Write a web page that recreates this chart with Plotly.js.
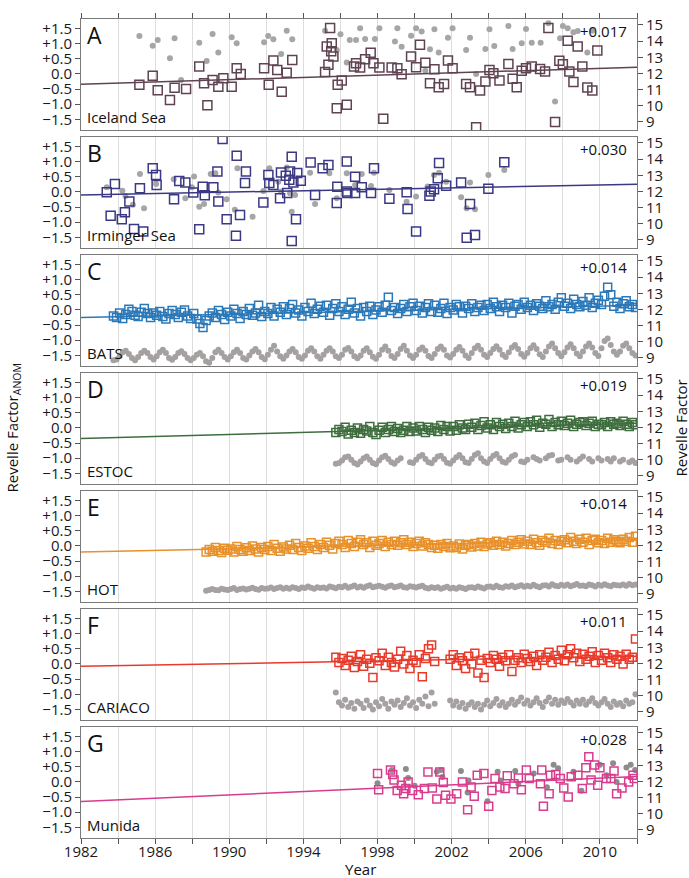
<!DOCTYPE html>
<html>
<head>
<meta charset="utf-8">
<script src="https://cdn.plot.ly/plotly-3.0.1.min.js"></script>
<style>html,body{margin:0;padding:0;background:#fff;}#chart{width:689px;height:878px;}</style>
</head>
<body>
<div id="chart"></div>
<script>
// ---------- axis ticks ----------
const yearTicks = [1982,1984,1986,1988,1990,1992,1994,1996,1998,2000,2002,2004,2006,2008,2010,2012];
const yearLabels = ['1982',' ','1986',' ','1990',' ','1994',' ','1998',' ','2002',' ','2006',' ','2010',' '];
const anomTicks = [-1.5,-1.0,-0.5,0,0.5,1.0,1.5];
const anomLabels = ['\u22121.5','\u22121.0','\u22120.5','0.0','+0.5','+1.0','+1.5'];
const revTicks = [9,10,11,12,13,14,15];
const trendYears = [1982, 2012];

// ---------- A: Iceland Sea ----------
const icelandYears = [1985.15,1985.87,1986.14,1986.80,1987.05,1987.67,1988.38,1988.64,1988.82,1989.10,1989.41,1989.68,1990.13,1990.40,1990.62,1991.88,1992.13,1992.38,1992.59,1992.83,1993.10,1993.40,1995.17,1995.26,1995.35,1995.44,1995.53,1995.62,1995.50,1995.80,1995.85,1996.07,1996.34,1996.73,1996.84,1997.06,1997.33,1997.63,1997.78,1998.10,1998.31,1998.76,1999.07,1999.30,1999.81,2000.08,2000.29,2000.58,2000.83,2001.07,2001.30,2001.59,2001.80,2002.05,2002.78,2002.99,2003.32,2003.53,2003.82,2004.04,2004.25,2004.58,2005.06,2005.29,2005.51,2005.78,2006.01,2006.32,2006.77,2007.04,2007.22,2007.58,2007.81,2008.00,2008.26,2008.35,2008.57,2008.80,2009.05,2009.32,2009.59,2009.86];
const icelandAnom = [-0.36,-0.06,-0.54,-0.86,-0.46,-0.50,0.24,-0.31,-1.03,-0.20,-0.42,-0.14,-0.42,0.19,0.00,0.19,-0.36,0.44,0.13,-0.59,0.04,0.46,0.06,0.90,0.30,1.51,1.01,0.57,0.75,-1.13,-0.36,-0.22,-1.02,0.24,0.35,0.21,0.48,0.70,0.35,0.21,-1.48,0.21,0.19,-0.01,0.57,0.22,0.96,0.37,-0.31,0.15,-0.44,-0.33,0.44,0.19,-0.33,-0.44,-1.76,-0.55,-0.25,0.13,0.02,-0.22,0.33,-0.16,-0.44,0.10,0.19,0.24,0.16,0.08,1.51,-1.59,0.43,0.32,1.09,0.08,-0.27,0.90,0.24,-0.45,-0.55,0.77];
const icelandRevYears = [1985.15,1985.87,1986.14,1986.80,1987.05,1987.40,1988.38,1988.78,1989.10,1989.41,1990.13,1990.40,1991.88,1992.10,1992.38,1992.80,1993.10,1993.40,1995.17,1995.80,1996.00,1996.34,1996.50,1996.84,1997.06,1997.33,1997.86,1998.10,1998.94,1999.07,1999.30,1999.81,2000.08,2000.38,2000.58,2000.83,2001.07,2001.30,2001.80,2002.05,2002.78,2002.99,2003.32,2003.82,2004.04,2004.30,2005.06,2005.29,2005.78,2006.01,2006.32,2006.80,2007.22,2007.58,2007.85,2008.00,2008.26,2008.57,2008.80,2009.32,2009.59];
const icelandRev = [14.32,13.72,14.07,12.94,14.18,11.60,13.90,12.77,14.44,13.29,14.24,13.87,13.93,14.32,14.11,13.20,14.65,14.11,14.65,13.45,14.42,12.67,14.07,14.07,14.80,14.13,14.13,14.80,13.97,14.80,13.66,14.34,14.80,14.59,12.17,13.50,14.73,13.29,14.21,14.80,13.45,14.21,11.97,13.52,14.73,13.70,14.94,13.52,13.87,14.75,13.90,13.90,15.10,10.26,14.18,14.94,14.80,14.55,14.63,13.29,14.65];
const icelandTrend = [-0.34, 0.22];

// ---------- B: Irminger Sea ----------
const irmingerYears = [1983.39,1983.83,1983.60,1984.20,1984.37,1984.61,1984.86,1985.36,1985.18,1985.87,1986.05,1986.08,1987.02,1987.30,1987.63,1988.06,1988.38,1988.57,1988.68,1989.14,1989.36,1989.41,1989.64,1989.86,1990.36,1990.40,1990.58,1990.85,1990.90,1991.84,1992.11,1992.16,1992.38,1992.74,1992.79,1993.05,1993.13,1993.24,1993.28,1993.37,1993.37,1993.46,1993.60,1993.67,1993.86,1994.39,1994.63,1995.04,1995.35,1995.80,1995.83,1996.34,1996.34,1996.37,1996.79,1996.79,1997.15,1997.65,1997.81,1998.64,1999.57,1999.62,2000.08,2000.80,2000.87,2001.05,2001.25,2001.32,2001.70,2002.51,2002.81,2002.99,2003.26,2003.98,2004.84];
const irmingerAnom = [-0.01,0.26,-0.79,-0.90,-0.67,-0.32,-1.22,-1.31,0.12,0.78,0.56,0.23,-0.24,0.36,0.31,-0.02,-1.23,0.17,-0.11,0.15,0.67,-0.32,1.74,-0.90,-1.45,1.19,-0.76,0.29,0.67,-0.35,0.56,0.29,0.23,-0.21,0.64,0.53,-0.04,0.40,0.67,1.16,-1.62,0.31,-0.90,0.62,0.37,0.97,-0.10,0.78,0.89,-0.37,0.17,1.00,0.01,-0.04,0.50,-0.04,0.15,-0.04,0.78,-0.23,-0.01,-0.56,-1.31,-0.13,0.01,0.09,0.45,0.95,0.20,0.31,-1.51,-0.40,-1.42,0.10,0.98];
const irmingerRevYears = [1983.39,1984.23,1984.40,1984.80,1985.18,1985.40,1986.05,1987.00,1987.63,1987.98,1988.10,1988.38,1988.64,1989.00,1989.25,1989.41,1989.86,1990.30,1990.44,1991.26,1991.84,1992.16,1992.65,1992.79,1993.10,1993.28,1993.37,1993.55,1994.36,1994.63,1995.40,1995.80,1996.34,1996.79,1997.15,1997.65,1997.81,1998.64,1999.57,2000.08,2000.70,2001.05,2001.32,2001.70,2002.51,2002.81,2002.99,2003.26,2003.98,2004.84];
const irmingerRev = [12.26,12.05,11.72,11.17,13.08,10.96,12.46,12.75,11.58,12.26,12.92,11.06,11.23,13.08,13.12,11.93,11.52,10.86,13.43,10.44,12.03,13.43,12.60,11.99,13.48,11.89,10.75,11.78,13.16,11.23,13.12,11.58,13.12,12.40,13.08,12.34,13.16,12.09,11.37,11.68,12.30,13.02,13.16,12.60,11.64,10.96,12.55,10.90,13.02,13.33];
const irmingerTrend = [-0.10, 0.25];

// ---------- C: BATS (sampled every 2 months from 1983.75) ----------
const batsStart = 1983.75, batsStep = 1/6;
const batsAnom = [-0.20,-0.25,
-0.10,-0.28,-0.15,0.02,-0.05,-0.18,
-0.22,-0.08,0.05,-0.12,-0.25,-0.10,
-0.18,-0.05,-0.22,-0.30,-0.12,-0.02,
-0.15,-0.25,-0.08,0.00,-0.20,-0.28,
-0.12,-0.30,-0.45,-0.58,-0.35,-0.20,
-0.10,-0.25,-0.02,-0.15,-0.32,-0.08,
-0.20,0.02,-0.12,-0.28,-0.05,-0.15,
0.05,-0.18,-0.10,0.15,-0.22,-0.05,
-0.12,0.08,-0.20,0.02,-0.08,0.10,
-0.15,0.05,0.18,-0.10,0.00,-0.20,
0.08,-0.05,0.22,-0.12,0.02,0.12,
-0.08,0.15,-0.18,0.05,0.20,-0.05,
0.10,-0.15,0.02,0.25,-0.10,0.05,
-0.20,0.08,-0.05,0.12,-0.15,0.00,
0.10,-0.08,0.15,0.42,-0.02,0.08,
-0.12,0.05,0.18,-0.05,0.10,0.22,
-0.02,0.12,-0.10,0.08,0.20,-0.05,
0.15,-0.08,0.05,0.22,-0.12,0.08,
0.00,0.18,0.10,-0.10,0.12,0.05,
0.20,-0.05,0.08,0.15,-0.02,0.18,
0.05,0.25,0.10,-0.05,0.15,0.08,
0.22,-0.10,0.12,0.18,0.02,0.25,
0.08,0.15,-0.02,0.20,0.12,0.05,
0.30,0.10,0.18,0.02,0.25,0.40,
0.12,0.22,0.05,0.35,0.18,0.10,
0.28,0.15,0.40,0.08,0.22,0.32,
0.18,0.45,0.75,0.50,0.12,0.25,
0.05,0.20,0.30,0.10,0.18,0.08];
const batsRev = [8.85,8.90,
9.10,9.35,9.45,9.25,9.00,8.85,
9.05,9.30,9.45,9.30,9.05,8.90,
9.10,9.35,9.50,9.30,9.00,8.88,
9.05,9.30,9.42,9.25,9.00,8.85,
9.00,9.20,9.30,9.10,8.80,8.70,
9.00,9.35,9.50,9.30,9.05,8.90,
9.10,9.35,9.50,9.30,9.00,8.90,
9.15,9.40,9.55,9.35,9.05,8.92,
9.20,9.50,9.75,9.40,9.10,8.95,
9.15,9.40,9.55,9.35,9.05,8.95,
9.15,9.45,9.60,9.40,9.10,8.95,
9.20,9.45,9.60,9.40,9.10,9.00,
9.20,9.50,9.62,9.40,9.10,8.98,
9.15,9.45,9.60,9.35,9.08,8.95,
9.20,9.50,9.70,9.45,9.12,9.00,
9.25,9.55,9.75,9.45,9.15,9.00,
9.20,9.50,9.65,9.45,9.12,9.00,
9.25,9.55,9.70,9.50,9.15,9.02,
9.25,9.50,9.68,9.45,9.15,9.00,
9.30,9.60,9.75,9.50,9.20,9.05,
9.30,9.55,9.72,9.50,9.20,9.05,
9.35,9.65,9.80,9.55,9.25,9.08,
9.30,9.60,9.78,9.55,9.22,9.05,
9.40,9.70,9.90,9.60,9.30,9.10,
9.35,9.65,9.85,9.60,9.28,9.10,
9.40,9.70,9.90,9.65,9.30,9.12,
9.60,10.05,10.20,9.80,9.40,9.20,
9.40,9.75,9.90,9.60,9.30,9.15];
const batsTrend = [-0.25, 0.15];

// ---------- D: ESTOC (every 2 months from 1995.75) ----------
const estocStart = 1995.75, estocStep = 1/6;
const estocAnom = [-0.15,-0.05,
-0.12,0.02,-0.20,-0.08,-0.15,0.00,
-0.18,-0.05,-0.10,0.05,-0.15,-0.22,
-0.08,0.02,-0.15,-0.05,0.05,-0.12,
-0.02,-0.15,-0.08,0.05,-0.12,0.00,
-0.10,0.05,-0.05,-0.15,0.02,-0.08,
0.00,-0.12,0.08,-0.05,0.05,-0.10,
0.05,-0.08,0.10,0.00,-0.05,0.12,
0.02,0.15,-0.05,0.08,0.20,0.00,
0.10,-0.05,0.18,0.05,0.12,-0.02,
0.15,0.05,0.22,0.00,0.10,0.18,
0.05,0.20,0.10,0.25,0.02,0.15,
0.12,0.28,0.05,0.18,0.10,0.22,
0.08,0.15,0.25,0.05,0.12,0.18,
0.20,0.08,0.15,0.22,0.05,0.12,
0.10,0.18,0.05,0.20,0.12,0.15,
0.08,0.22,0.12,0.05,0.18,0.10];
const estocRev = [9.75,9.80,
9.95,10.15,10.20,10.00,9.80,9.70,
9.90,10.10,10.20,10.00,9.80,9.72,
9.95,10.15,10.25,10.05,9.85,9.75,
9.95,10.10,null,null,9.85,9.80,
10.00,10.20,10.30,10.05,9.85,9.78,
10.00,10.20,10.25,10.05,9.82,9.75,
9.95,10.15,10.30,10.10,9.85,9.80,
10.05,10.30,10.40,10.10,9.90,9.80,
10.05,10.25,10.35,10.10,9.88,9.82,
10.00,10.20,10.30,null,9.90,9.85,
10.00,null,10.15,10.05,9.95,null,
10.10,10.25,10.30,null,9.95,10.00,
null,10.15,10.00,null,9.90,10.05,
10.20,null,10.05,9.90,null,10.10,
9.95,null,10.05,9.90,10.10,null,
9.90,10.00,null,9.85,9.95,9.80];
const estocTrend = [-0.35, 0.15];

// ---------- E: HOT (every 2 months from 1988.75) ----------
const hotStart = 1988.75, hotStep = 1/6;
const hotAnom = [-0.20,-0.12,
-0.18,-0.05,-0.15,-0.22,-0.08,-0.14,
-0.10,-0.20,-0.02,-0.12,-0.18,-0.06,
-0.15,0.00,-0.10,-0.20,-0.05,-0.12,
-0.02,-0.15,0.05,-0.08,-0.18,-0.04,
-0.10,0.02,-0.12,0.08,-0.05,-0.15,
0.00,-0.08,0.10,-0.02,-0.12,0.05,
-0.05,0.12,0.02,-0.10,0.08,0.15,
0.05,-0.05,0.18,0.08,-0.02,0.12,
0.20,0.05,0.10,-0.05,0.15,0.02,
0.08,0.18,-0.02,0.12,0.05,0.15,
0.02,0.10,0.20,0.05,0.12,-0.02,
0.08,0.15,0.00,0.10,0.05,-0.05,
0.02,-0.08,0.05,-0.02,0.08,-0.06,
0.00,-0.05,0.06,-0.10,0.02,0.05,
-0.04,0.08,0.00,0.12,-0.02,0.06,
0.10,0.02,0.15,0.05,0.12,0.00,
0.08,0.18,0.05,0.12,0.20,0.06,
0.15,0.05,0.22,0.10,0.02,0.18,
0.12,0.25,0.08,0.18,0.05,0.15,
0.20,0.10,0.28,0.15,0.08,0.22,
0.12,0.25,0.05,0.18,0.22,0.10,
0.18,0.08,0.25,0.12,0.20,0.15,
0.10,0.22,0.15,0.28,0.12,0.32];
const hotRev = [9.20,9.25,
9.30,9.25,9.22,9.32,9.27,9.25,
9.30,9.36,9.25,9.30,9.34,9.28,
9.32,9.38,9.30,9.26,9.36,9.32,
9.34,9.40,9.30,9.36,9.42,9.32,
9.38,9.32,9.42,9.36,9.30,9.40,
9.36,9.46,9.38,9.32,9.42,9.36,
9.40,9.34,9.46,9.42,9.35,9.44,
9.42,9.50,9.38,9.44,9.52,9.40,
9.46,9.38,9.48,9.54,9.42,9.46,
9.50,9.44,9.38,9.48,9.52,9.42,
9.46,9.52,9.42,9.38,9.48,9.44,
9.40,9.46,9.50,9.38,9.34,9.42,
9.36,9.42,9.32,9.38,9.44,9.34,
9.38,9.32,9.42,9.36,9.30,9.40,
9.42,9.36,9.46,9.40,9.34,9.44,
9.46,9.40,9.50,9.42,9.38,9.48,
9.44,9.52,9.42,9.48,9.54,9.44,
9.50,9.46,9.56,9.48,9.42,9.52,
9.54,9.46,9.60,9.50,9.48,9.56,
9.50,9.58,9.48,9.54,9.62,9.50,
9.52,9.48,9.58,9.54,9.46,9.56,
9.50,9.60,9.52,9.48,9.56,9.54,
9.52,9.58,9.50,9.62,9.54,9.58];
const hotTrend = [-0.20, 0.20];

// ---------- F: CARIACO (every 2 months from 1995.75) ----------
const cariacoStart = 1995.75, cariacoStep = 1/6;
const cariacoAnom = [0.22,0.05,
0.18,-0.05,0.12,0.25,-0.12,0.08,
0.30,-0.08,0.15,0.02,-0.45,0.20,
0.10,0.35,-0.05,0.22,0.05,-0.10,
0.15,0.42,0.00,0.28,-0.15,0.12,
0.05,0.30,-0.42,0.18,0.50,0.62,
0.08,null,null,null,null,0.15,
0.30,-0.05,0.20,0.10,-0.15,0.25,
0.00,0.35,-0.30,0.12,-0.45,0.18,
0.05,0.28,0.15,-0.08,0.22,0.10,
0.30,-0.25,0.12,0.20,0.05,0.32,
0.18,0.08,0.25,-0.05,0.30,0.12,
0.22,0.38,0.05,0.28,0.15,0.45,
0.10,0.30,0.50,0.20,0.35,0.08,
0.32,0.15,0.25,0.40,0.05,0.28,
0.12,0.35,0.20,0.05,0.30,0.15,
0.25,0.00,0.32,0.15,0.22,0.82];
const cariacoRev = [10.20,9.60,
9.40,9.75,9.30,9.55,9.20,9.65,
9.50,9.25,9.70,9.40,9.15,9.60,
9.35,9.80,9.50,9.20,9.65,9.45,
9.70,9.30,9.55,9.85,9.40,9.60,
9.25,9.75,9.50,9.95,9.35,10.20,
9.50,null,null,null,null,9.70,
9.40,9.65,9.30,9.55,9.20,9.45,
9.60,9.30,9.50,9.15,9.45,9.70,
9.35,9.55,9.80,9.40,9.60,9.30,
9.50,9.75,9.45,9.65,9.90,9.50,
9.70,9.40,9.60,9.85,9.55,9.30,
9.65,9.90,9.50,9.75,9.45,9.70,
9.55,9.80,9.60,9.40,9.70,9.50,
9.75,9.45,9.65,9.85,9.55,9.40,
9.60,9.80,9.50,9.30,9.65,9.45,
9.55,9.35,9.70,9.50,9.60,10.10];
const cariacoTrend = [-0.08, 0.25];

// ---------- G: Munida ----------
const munidaYears = [1998.00,1998.06,1998.70,1998.82,1998.89,1999.06,1999.29,1999.41,1999.53,1999.65,1999.89,2000.20,2000.53,2000.72,2000.96,2001.20,2001.36,2001.55,2001.67,2001.96,2002.27,2002.58,2002.86,2003.05,2003.22,2003.38,2003.74,2004.00,2004.17,2004.34,2004.60,2004.88,2005.00,2005.36,2005.60,2005.76,2006.03,2006.19,2006.79,2006.86,2006.95,2007.26,2007.33,2007.62,2007.86,2008.05,2008.29,2008.45,2008.81,2009.05,2009.24,2009.40,2009.52,2009.71,2009.88,2010.00,2010.35,2010.59,2010.76,2010.90,2011.19,2011.55,2011.78,2011.85];
const munidaAnom = [0.28,-0.26,0.39,0.24,0.06,-0.28,-0.11,-0.39,-0.22,0.00,-0.28,-0.42,-0.22,0.33,-0.20,-0.56,0.33,-0.02,-0.44,-0.56,-0.39,0.00,-0.92,-0.17,-0.47,0.22,0.28,-0.80,-0.28,0.11,-0.17,-0.22,0.20,-0.06,0.13,-0.26,0.39,0.11,-0.06,0.39,-0.80,-0.39,0.22,0.24,0.11,-0.20,-0.50,0.17,0.22,-0.22,0.47,0.83,0.06,0.56,-0.11,0.47,0.11,0.11,0.36,-0.39,-0.20,0.00,0.22,0.11];
const munidaRevYears = [1998.00,1998.77,1999.53,1999.65,2000.00,2001.20,2001.43,2001.50,2002.50,2002.86,2002.91,2003.93,2004.48,2004.65,2005.43,2005.60,2006.43,2007.14,2007.50,2007.74,2008.57,2009.00,2010.00,2010.35,2010.71,2010.90,2011.43,2011.66,2011.90];
const munidaRev = [11.89,12.71,12.77,12.21,11.74,12.60,12.71,12.28,12.64,11.31,12.06,10.78,12.60,12.06,12.64,11.85,12.49,11.64,13.03,12.81,12.60,11.42,13.03,12.39,13.13,11.96,12.86,13.03,12.71];
const munidaTrend = [-0.65, 0.18];

// ---------- build ----------
function sampled(start, step, vals){ return vals.map((_, i) => start + i*step); }

const panels = [
  {letter:'A', name:'Iceland Sea', slope:'+0.017', color:'#5f4352', x:icelandYears, y:icelandAnom, rx:icelandRevYears, ry:icelandRev, trend:icelandTrend, dot:'#a6a6a6', sq:9, ds:6},
  {letter:'B', name:'Irminger Sea', slope:'+0.030', color:'#3b3884', x:irmingerYears, y:irmingerAnom, rx:irmingerRevYears, ry:irmingerRev, trend:irmingerTrend, dot:'#a6a6a6', sq:9, ds:6},
  {letter:'C', name:'BATS', slope:'+0.014', color:'#2a78b8', x:sampled(batsStart,batsStep,batsAnom), y:batsAnom, rx:sampled(batsStart,batsStep,batsRev), ry:batsRev, trend:batsTrend, dot:'#a5a1a1', sq:8, ds:6},
  {letter:'D', name:'ESTOC', slope:'+0.019', color:'#3e6d3e', x:sampled(estocStart,estocStep,estocAnom), y:estocAnom, rx:sampled(estocStart,estocStep,estocRev), ry:estocRev, trend:estocTrend, dot:'#a5a1a1', sq:8, ds:6},
  {letter:'E', name:'HOT', slope:'+0.014', color:'#e8902a', x:sampled(hotStart,hotStep,hotAnom), y:hotAnom, rx:sampled(hotStart,hotStep,hotRev), ry:hotRev, trend:hotTrend, dot:'#a5a1a1', sq:8, ds:6},
  {letter:'F', name:'CARIACO', slope:'+0.011', color:'#e83a2a', x:sampled(cariacoStart,cariacoStep,cariacoAnom), y:cariacoAnom, rx:sampled(cariacoStart,cariacoStep,cariacoRev), ry:cariacoRev, trend:cariacoTrend, dot:'#a5a1a1', sq:8, ds:6},
  {letter:'G', name:'Munida', slope:'+0.028', color:'#d93b8e', x:munidaYears, y:munidaAnom, rx:munidaRevYears, ry:munidaRev, trend:munidaTrend, dot:'#8c8c8c', sq:8, ds:6}
];

const FONT = 'Open Sans, Noto Sans, sans-serif';
const H = 819, PH = 111, STEP = 118;
const data = [];
const layout = {
  width:689, height:878,
  margin:{l:81, r:52, t:19, b:40},
  paper_bgcolor:'#fff', plot_bgcolor:'rgba(0,0,0,0)',
  showlegend:false,
  font:{family:FONT, size:15, color:'#1a1a1a'},
  annotations:[]
};

panels.forEach((p, i) => {
  const n = i+1, ov = i+8;
  const top = 1 - (STEP*i)/H, bot = top - PH/H;
  data.push({type:'scatter', mode:'markers', x:p.rx, y:p.ry, xaxis:'x'+n, yaxis:'y'+n,
    marker:{symbol:'circle', size:p.ds, color:p.dot}, hoverinfo:'skip'});
  data.push({type:'scatter', mode:'markers', x:p.x, y:p.y, xaxis:'x'+n, yaxis:'y'+ov,
    marker:{symbol:'square-open', size:p.sq, color:p.color, line:{width:1.5, color:p.color}}, hoverinfo:'skip'});
  data.push({type:'scatter', mode:'lines', x:trendYears, y:p.trend, xaxis:'x'+n, yaxis:'y'+ov,
    line:{color:p.color, width:1.5}, hoverinfo:'skip'});

  layout['xaxis'+(n===1?'':n)] = {
    domain:[0,1], range:[1982,2012], anchor:'y'+n,
    tickmode:'array', tickvals:yearTicks, ticktext:yearLabels,
    showgrid:true, gridcolor:'#dddddd', gridwidth:1,
    showline:true, mirror:true, linecolor:'#7a7a7a', linewidth:1, zeroline:false,
    ticks:(i===0||i===6)?'outside':'', ticklen:5, tickcolor:'#555',
    side:i===0?'top':'bottom', showticklabels:i===6,
    ticklabelstandoff: i===6 ? -5 : 0,
    tickfont:{family:FONT, size:15, color:'#1a1a1a'}
  };
  layout['yaxis'+(n===1?'':n)] = {
    domain:[bot, top], range:[8.5, 15.37], side:'right', anchor:'x'+n,
    tickmode:'array', tickvals:revTicks, ticks:'outside', ticklen:5, tickcolor:'#555',
    showline:true, mirror:true, linecolor:'#7a7a7a', linewidth:1,
    showgrid:false, zeroline:false,
    tickfont:{family:FONT, size:15, color:'#1a1a1a'}
  };
  layout['yaxis'+ov] = {
    overlaying:'y'+(n===1?'':n), side:'left', anchor:'x'+n, range:[-1.85, 1.81],
    tickmode:'array', tickvals:anomTicks, ticktext:anomLabels,
    ticks:'outside', ticklen:5, tickcolor:'#555',
    showline:false, showgrid:false, zeroline:false,
    tickfont:{family:FONT, size:15, color:'#1a1a1a'}
  };
  const xr = 'x'+(n===1?'':n)+' domain', yr = 'y'+(n===1?'':n)+' domain';
  layout.annotations.push({xref:xr, yref:yr, x:0.008, y:0.86, xanchor:'left', yanchor:'middle',
    text:p.letter, showarrow:false, font:{family:FONT, size:23, color:'#111'}});
  layout.annotations.push({xref:xr, yref:yr, x:0.008, y:0.115, xanchor:'left', yanchor:'middle',
    text:p.name, showarrow:false, font:{family:FONT, size:15, color:'#111'}});
  layout.annotations.push({xref:xr, yref:yr, x:0.985, y:0.89, xanchor:'right', yanchor:'middle',
    text:p.slope, showarrow:false, font:{family:FONT, size:15, color:'#111'}});
});

layout.annotations.push({xref:'paper', yref:'paper', x:(12-81)/556, y:0.5, xanchor:'center', yanchor:'middle',
  text:'Revelle Factor<sub>ANOM</sub>', textangle:-90, showarrow:false, font:{family:FONT, size:15, color:'#111'}});
layout.annotations.push({xref:'paper', yref:'paper', x:(680-81)/556, y:0.5, xanchor:'center', yanchor:'middle',
  text:'Revelle Factor', textangle:-90, showarrow:false, font:{family:FONT, size:15, color:'#111'}});
layout.annotations.push({xref:'paper', yref:'paper', x:0.502, y:(838-869)/819, xanchor:'center', yanchor:'middle',
  text:'Year', showarrow:false, font:{family:FONT, size:15, color:'#111'}});

Plotly.newPlot('chart', data, layout, {displayModeBar:false, staticPlot:true});
</script>
</body>
</html>
